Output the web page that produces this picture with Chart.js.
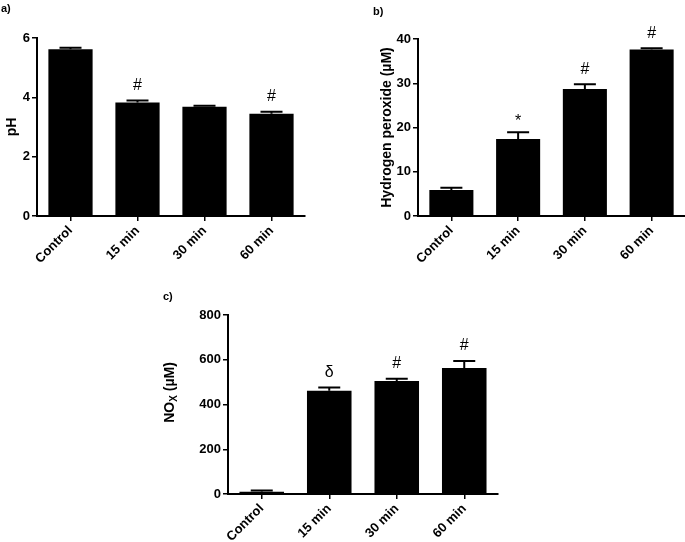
<!DOCTYPE html>
<html>
<head>
<meta charset="utf-8">
<script src="https://cdn.jsdelivr.net/npm/chart.js@4.4.1/dist/chart.umd.min.js"></script>
<style>
  body { margin: 0; background: #fff; }
  #wrap { position: relative; width: 685px; height: 542px; overflow: hidden; }
  #wrap canvas { position: absolute; }
  .lab { position: absolute; font: bold 11px "Liberation Sans", Arial, sans-serif; color: #000; }
</style>
</head>
<body>
<div id="wrap">
  <canvas id="chartA" width="320" height="290" style="left:0;top:0"></canvas>
  <canvas id="chartB" width="332" height="290" style="left:365px;top:0"></canvas>
  <canvas id="chartC" width="360" height="252" style="left:150px;top:290px"></canvas>
  <div class="lab" style="left:1px;top:2px">a)</div>
  <div class="lab" style="left:373px;top:5px">b)</div>
  <div class="lab" style="left:163px;top:290px">c)</div>
</div>
<script>
// data
const categories = ['Control', '15 min', '30 min', '60 min'];

const phMean = [5.62, 3.83, 3.68, 3.45];
const phErr = [0.05, 0.06, 0.04, 0.06];
const phMarks = ['', '#', '', '#'];
const phTicks = [0, 2, 4, 6];

const h2o2Mean = [5.9, 17.4, 28.7, 37.6];
const h2o2Err = [0.5, 1.5, 1.1, 0.3];
const h2o2Marks = ['', '*', '#', '#'];
const h2o2Ticks = [0, 10, 20, 30, 40];

const noxMean = [10, 462, 505, 563];
const noxErr = [6, 14, 10, 31];
const noxMarks = ['', '\u03b4', '#', '#'];
const noxTicks = [0, 200, 400, 600, 800];

const FONT = '"Liberation Sans", Arial, sans-serif';
Chart.defaults.font.family = FONT;
Chart.defaults.color = '#000';

// upper error bar + significance symbol above each bar
const errorBars = {
    id: 'errbars',
    afterDatasetsDraw(chart, args, opts) {
        const ctx = chart.ctx;
        const y = chart.scales.y;
        const means = chart.data.datasets[0].data;
        const bars = chart.getDatasetMeta(0).data;
        ctx.save();
        ctx.strokeStyle = '#000';
        ctx.fillStyle = '#000';
        ctx.lineWidth = 2;
        bars.forEach((bar, i) => {
            const top = y.getPixelForValue(means[i] + opts.err[i]);
            ctx.beginPath();
            ctx.moveTo(bar.x, bar.y);
            ctx.lineTo(bar.x, top);
            ctx.moveTo(bar.x - 11, top);
            ctx.lineTo(bar.x + 11, top);
            ctx.stroke();
            const m = opts.marks[i];
            if (m) {
                ctx.font = '16px ' + FONT;
                ctx.textAlign = 'center';
                ctx.textBaseline = 'middle';
                ctx.fillText(m, bar.x, top - (m === '*' ? 11 : 15));
            }
        });
        ctx.restore();
    }
};

// NOx title with subscript X
const noxTitle = {
    id: 'noxTitle',
    afterDraw(chart) {
        const ctx = chart.ctx;
        const area = chart.chartArea;
        const cy = (area.top + area.bottom) / 2 - 12;
        const cx = 20;
        ctx.save();
        ctx.translate(cx, cy);
        ctx.rotate(-Math.PI / 2);
        ctx.fillStyle = '#000';
        ctx.textBaseline = 'middle';
        ctx.textAlign = 'left';
        const big = 'bold 14px ' + FONT, small = 'bold 10px ' + FONT;
        ctx.font = big;
        const w1 = ctx.measureText('NO').width;
        const w3 = ctx.measureText(' (\u00b5M)').width;
        ctx.font = small;
        const w2 = ctx.measureText('X').width;
        let x = -(w1 + w2 + w3) / 2;
        ctx.font = big;
        ctx.fillText('NO', x, 0);
        ctx.font = small;
        ctx.fillText('X', x + w1, 4);
        ctx.font = big;
        ctx.fillText(' (\u00b5M)', x + w1 + w2, 0);
        ctx.restore();
    }
};

function makeChart(id, means, err, marks, ticks, title, yWidth, xHeight, padding, titlePad, extra) {
    const ctx = document.getElementById(id).getContext('2d');
    return new Chart(ctx, {
        type: 'bar',
        data: {
            labels: categories,
            datasets: [{
                data: means,
                backgroundColor: '#000',
                borderColor: '#000',
                borderWidth: 0,
                barPercentage: 0.66,
                categoryPercentage: 1
            }]
        },
        options: {
            responsive: false,
            animation: false,
            devicePixelRatio: 1,
            layout: { padding: padding },
            plugins: {
                legend: { display: false },
                tooltip: { enabled: false },
                errbars: { err: err, marks: marks }
            },
            scales: {
                x: {
                    offset: true,
                    grid: { offset: false, drawOnChartArea: false, tickLength: 5, color: '#000', lineWidth: 1.5 },
                    border: { color: '#000', width: 2 },
                    ticks: { font: { size: 13, weight: 'bold' }, minRotation: 45, maxRotation: 45, autoSkip: false, padding: 2 },
                    afterFit: s => { s.height = xHeight; }
                },
                y: {
                    min: ticks[0],
                    max: ticks[ticks.length - 1],
                    grid: { drawOnChartArea: false, tickLength: 5, color: '#000', lineWidth: 1.5 },
                    border: { color: '#000', width: 2 },
                    ticks: { font: { size: 13, weight: 'bold' }, padding: 2 },
                    afterBuildTicks: s => { s.ticks = ticks.map(v => ({ value: v })); },
                    title: {
                        display: !!title,
                        text: title,
                        font: { size: 14, weight: 'bold' },
                        padding: { top: titlePad, bottom: 0 }
                    },
                    afterFit: s => { s.width = yWidth; }
                }
            }
        },
        plugins: [errorBars].concat(extra || [])
    });
}

makeChart('chartA', phMean, phErr, phMarks, phTicks, 'pH', 37, 74,
    { top: 38, right: 15, left: 0, bottom: 0 }, 4);
makeChart('chartB', h2o2Mean, h2o2Err, h2o2Marks, h2o2Ticks, 'Hydrogen peroxide (\u00b5M)', 53, 74,
    { top: 39, right: 12, left: 0, bottom: 0 }, 14);
makeChart('chartC', noxMean, noxErr, noxMarks, noxTicks, '', 78, 48,
    { top: 25, right: 12, left: 0, bottom: 0 }, 0, [noxTitle]);
</script>
</body>
</html>
